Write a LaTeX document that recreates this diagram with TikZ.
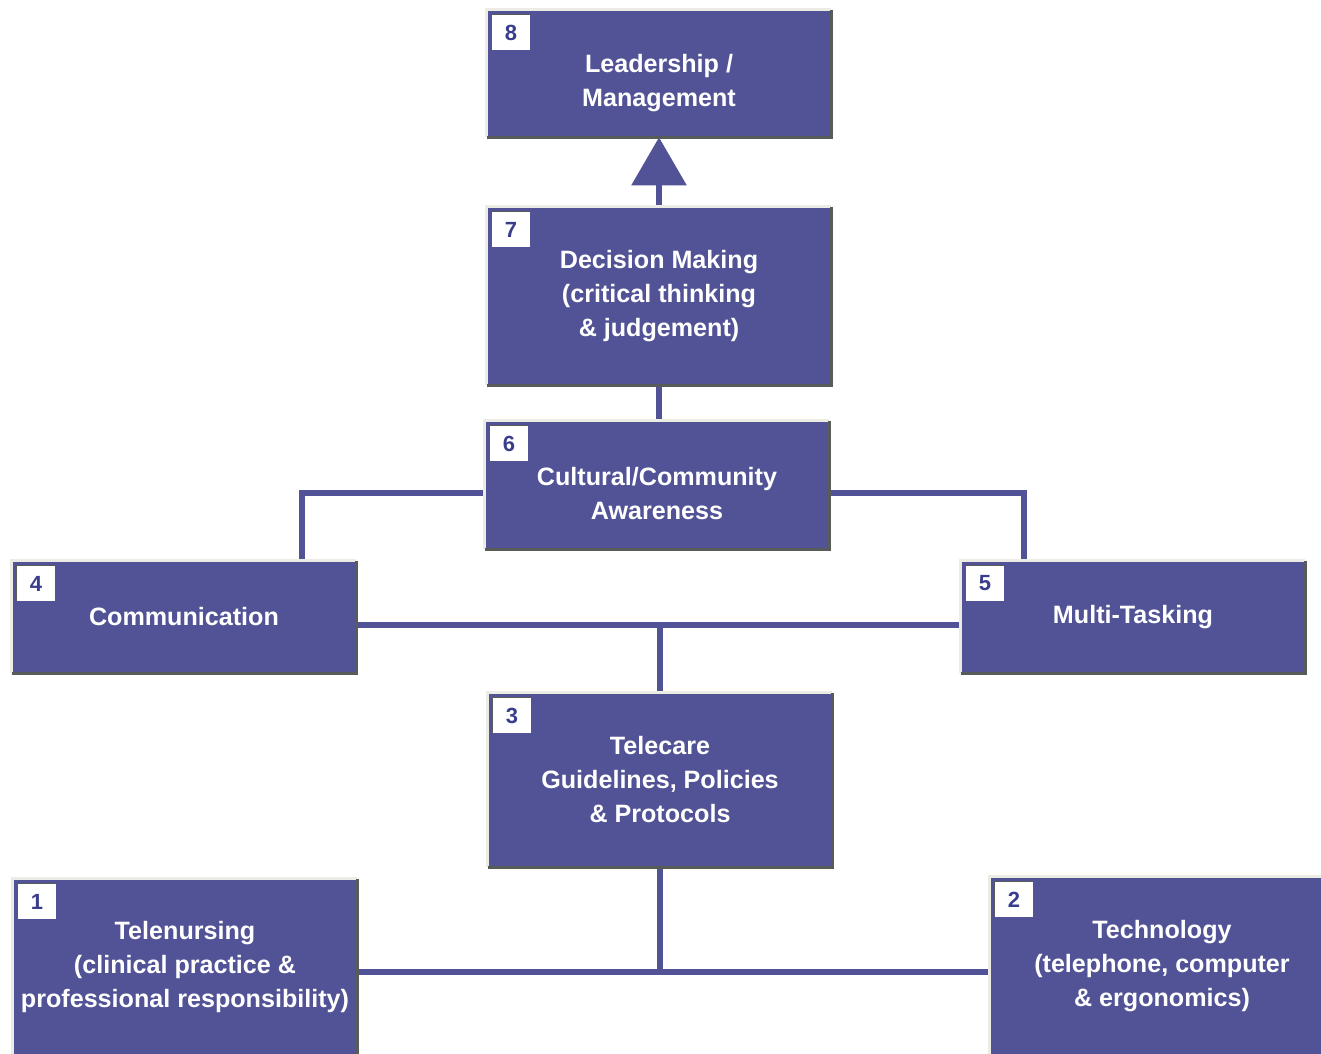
\documentclass[tikz,border=0pt]{standalone}
\usepackage{fontspec}
\newfontfamily\chartfont{Liberation Sans}
\usetikzlibrary{arrows.meta}
\definecolor{boxblue}{RGB}{82,83,150}
\definecolor{edgedark}{RGB}{88,92,88}
\definecolor{edgelight}{RGB}{236,236,228}
\definecolor{numblue}{RGB}{58,60,140}
\begin{document}
\begin{tikzpicture}[x=0.02cm, y=-0.02cm,
      box/.style={fill=boxblue, text=white, minimum width=6.88cm, inner sep=0pt, align=center,
        font=\chartfont\bfseries\fontsize{14.3}{19.35}\selectfont},
      num/.style={fill=white, text=numblue, minimum width=0.76cm, minimum height=0.7cm,
        inner sep=0pt, anchor=north west, font=\chartfont\bfseries\fontsize{12.5}{12.5}\selectfont},
      link/.style={draw=boxblue, line width=3.4pt},
      rise/.style={link, -{Triangle[width=1.08cm, length=0.96cm]}},
      lit/.style={draw=edgelight, line width=1.4pt},
      shade/.style={draw=edgedark, line width=1.4pt}]

    \useasboundingbox (0,0) rectangle (1321,1054);
    \clip (0,0) rectangle (1321,1054);

    \node[box, minimum height=2.54cm] (b8) at (659,73.5) {\rule{0pt}{21pt}Leadership /\\Management};
    \node[box, minimum height=3.56cm] (b7) at (659,296)  {Decision Making\\(critical thinking\\\& judgement)};
    \node[box, minimum height=2.56cm] (b6) at (657,485)  {\rule{0pt}{20pt}Cultural/Community\\Awareness};
    \node[box, minimum height=2.24cm] (b4) at (184,617)  {Communication};
    \node[box, minimum height=2.24cm] (b5) at (1133,617) {Multi-Tasking};
    \node[box, minimum height=3.48cm] (b3) at (660,780)  {Telecare\\Guidelines, Policies\\\& Protocols};
    \node[box, minimum height=3.52cm] (b1) at (185,967)  {Telenursing\\(clinical practice \&\\professional responsibility)};
    \node[box, minimum height=3.56cm] (b2) at (1162,966) {Technology\\(telephone, computer\\\& ergonomics)};

    \draw[rise] (b7) -- (b8);
    \draw[link] (b7) -- (b7.south |- b6.north);
    \draw[link] (b6.west |- 0,493) -| (b4.north -| 302,0);
    \draw[link] (b6.east |- 0,493) -| (b5.north -| 1024,0);
    \draw[link] (b4.east |- 0,625) -- (b5.west |- 0,625);
    \draw[link] (b3.north) -- (b3.north |- 0,625);
    \draw[link] (b3) -- (b3.south |- 0,972);
    \draw[link] (b1.east |- 0,972) -- (b2.west |- 0,972);

    \foreach \b in {1,...,8} {
      \draw[lit] (b\b.south west) -- (b\b.north west) -- (b\b.north east);
      \draw[shade] (b\b.north east) -- (b\b.south east) -- (b\b.south west);
      \node[num] (n\b) at ([xshift=0.1cm, yshift=-0.1cm]b\b.north west) {\b};
      \draw[shade, line width=0.6pt] (n\b.south west) -- (n\b.north west) -- (n\b.north east);
    }
  \end{tikzpicture}
\end{document}
